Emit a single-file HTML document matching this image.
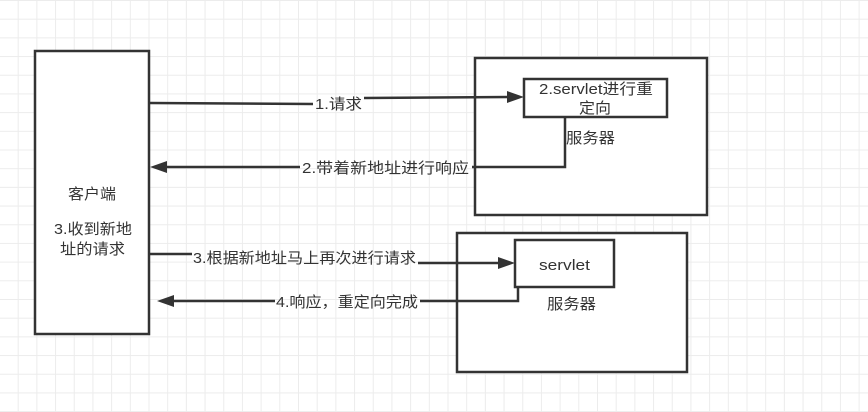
<!DOCTYPE html>
<html><head><meta charset="utf-8"><style>
html,body{margin:0;padding:0;}
body{width:868px;height:412px;overflow:hidden;background:#fff;
background-image:linear-gradient(#ececec 1px,transparent 1px),linear-gradient(90deg,#ececec 1px,transparent 1px);
background-size:18.7px 18.7px;background-position:-1px 0px;}
svg{position:absolute;left:0;top:0;}
text{font-family:"Liberation Sans","Noto Sans CJK SC",sans-serif;font-size:15px;fill:#333;}
</style></head><body>
<svg width="868" height="412" viewBox="0 0 868 412">
<g fill="#fff" stroke="#333" stroke-width="2.5">
<rect x="35" y="51" width="114" height="283"/>
<rect x="475" y="58" width="232" height="157"/>
<rect x="524" y="79" width="143" height="38"/>
<rect x="457" y="233" width="230" height="139"/>
<rect x="515" y="240" width="99" height="47"/>
</g>
<g stroke="#333" stroke-width="2.5" fill="none">
<polyline points="150,103 313,104"/>
<polyline points="364,98 510,97"/>
<polyline points="565,117 565,167 472,167"/>
<polyline points="300,167 162,167"/>
<polyline points="150,254 192,254"/>
<polyline points="418,263 500,263"/>
<polyline points="518,287 518,301 420,301"/>
<polyline points="275,301 168,301"/>
</g>
<g fill="#333">
<polygon points="524,97 507,91 507,103"/>
<polygon points="150,167 167,161 167,173"/>
<polygon points="515,263 498,257 498,269"/>
<polygon points="157,301 174,295 174,307"/>
</g>
<text x="68" y="199" textLength="48" lengthAdjust="spacingAndGlyphs">客户端</text>
<text x="54" y="234" textLength="78" lengthAdjust="spacingAndGlyphs">3.收到新地</text>
<text x="60" y="254" textLength="65" lengthAdjust="spacingAndGlyphs">址的请求</text>
<text x="539" y="94" textLength="114" lengthAdjust="spacingAndGlyphs">2.servlet进行重</text>
<text x="579" y="113" textLength="32" lengthAdjust="spacingAndGlyphs">定向</text>
<text x="566" y="143" textLength="49" lengthAdjust="spacingAndGlyphs">服务器</text>
<text x="539" y="270" textLength="51" lengthAdjust="spacingAndGlyphs">servlet</text>
<text x="547" y="309" textLength="49" lengthAdjust="spacingAndGlyphs">服务器</text>
<text x="315" y="109" textLength="47" lengthAdjust="spacingAndGlyphs">1.请求</text>
<text x="302" y="173" textLength="167" lengthAdjust="spacingAndGlyphs">2.带着新地址进行响应</text>
<text x="193" y="263" textLength="223" lengthAdjust="spacingAndGlyphs">3.根据新地址马上再次进行请求</text>
<text x="276" y="307" textLength="142" lengthAdjust="spacingAndGlyphs">4.响应，重定向完成</text>
</svg>
</body></html>
